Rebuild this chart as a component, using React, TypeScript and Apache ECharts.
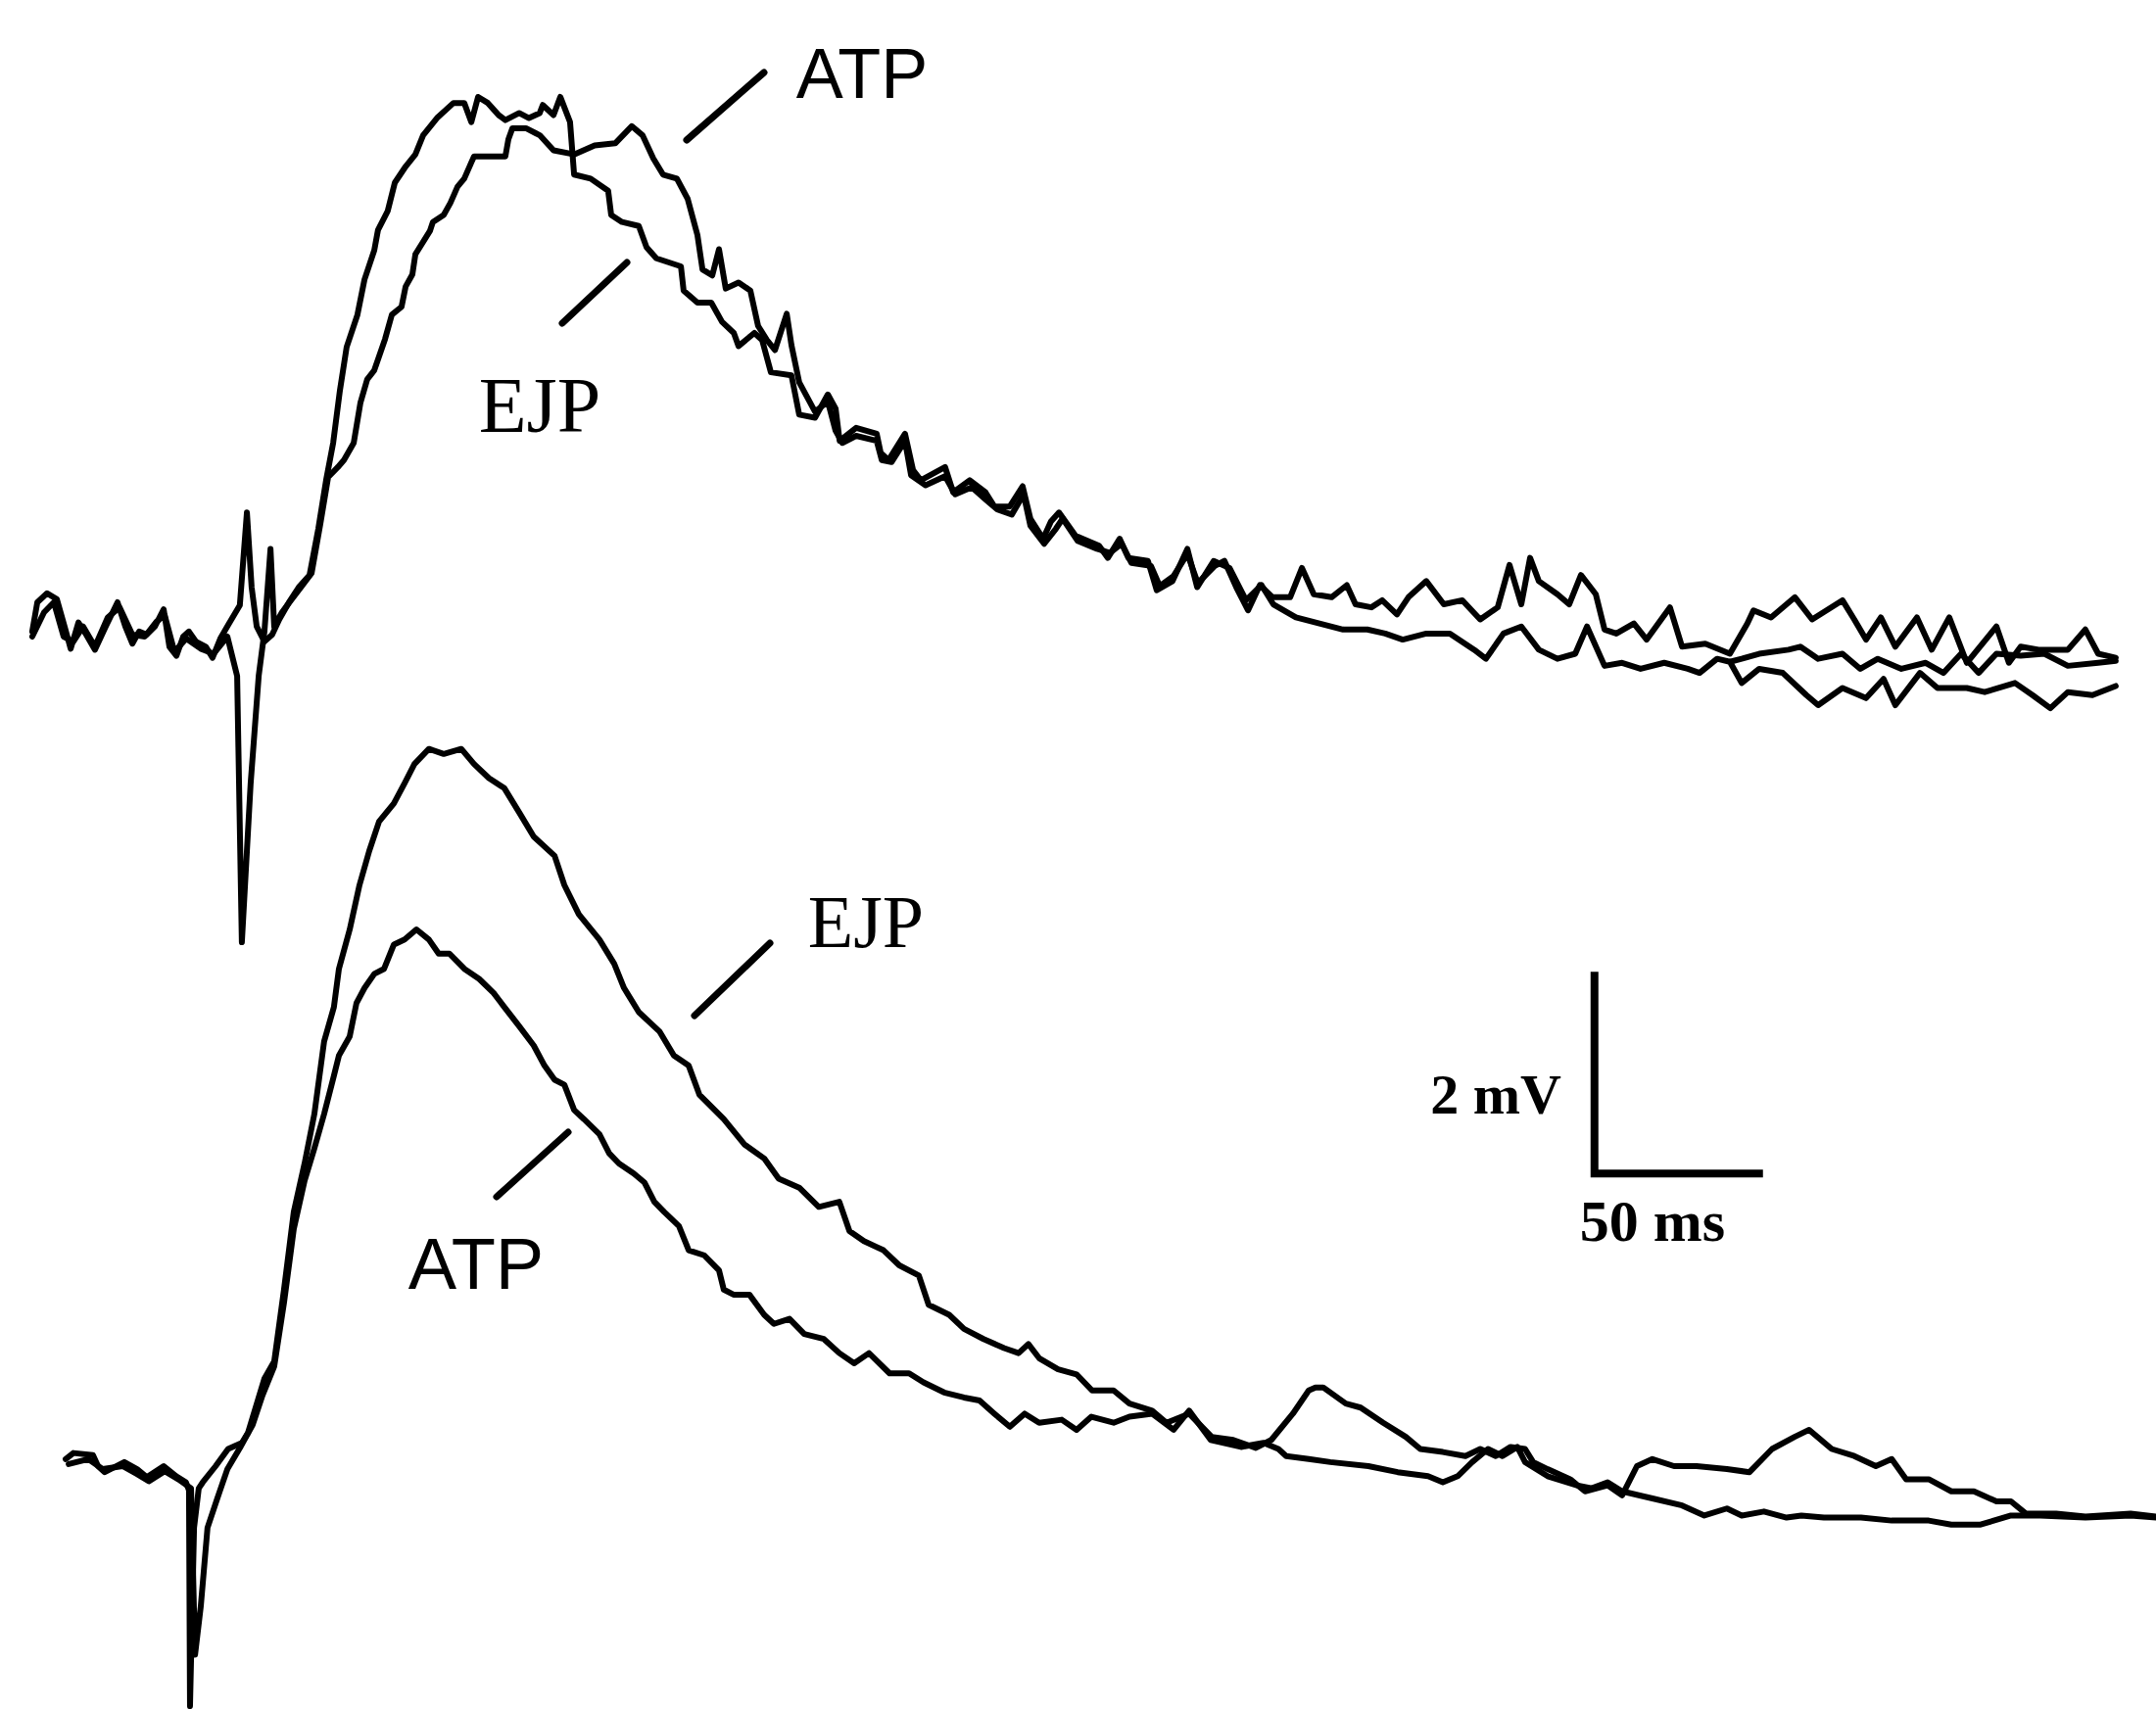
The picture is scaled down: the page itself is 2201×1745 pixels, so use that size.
import React, { useEffect, useRef } from "react";
import * as echarts from "echarts";

// ---- canvas & scale (scale bar: 50 ms horizontal, 2 mV vertical) ----
const W = 2201;
const H = 1745;
const PX_PER_MS = 3.44;
const PX_PER_MV = 103;
// pixel position of stimulus time (t=0) and resting baseline (0 mV) for each panel
const TOP_ORIGIN = { x: 250, y: 650 };
const BOTTOM_ORIGIN = { x: 195, y: 1497 };

// ---- data: [time (ms from stimulus), depolarisation (mV from rest)] ----
const topEJP: [number, number][] = [
  [-63.1,0.05],[-61.6,0.34],[-58.7,0.43],[-55.8,0.37],[-53.5,0.10],[-51.7,-0.12],[-49.4,0.14],[-47.1,0.02],[-44.5,-0.13],[-41.3,0.10],[-37.8,0.34],[-35.5,0.10],[-33.4,-0.07],[-31.4,0.05],[-29.1,0.02],[-26.7,0.10],[-24.1,0.27],[-22.4,-0.10],[-20.3,-0.19],[-18.3,0.00],[-16.6,0.05],[-14.5,-0.05],[-11.6,-0.10],[-9.6,-0.21],[-7.3,-0.02],[-4.9,0.12],[-1.5,0.31],[0.6,1.23],[2.0,0.49],[3.5,0.10],[5.8,-0.05],[8.1,0.02],[10.2,0.17],[13.1,0.34],[16.0,0.49],[19.2,0.61],[21.8,1.07],[24.1,1.55],[26.2,1.92],[28.2,2.44],[30.2,2.87],[33.4,3.19],[35.5,3.54],[38.4,3.83],[39.5,4.03],[42.4,4.22],[44.5,4.50],[47.7,4.66],[50.6,4.78],[52.9,4.97],[57.0,5.14],[61.9,5.29],[65.1,5.29],[67.2,5.10],[69.2,5.35],[72.1,5.29],[75.3,5.17],[77.3,5.12],[81.4,5.19],[84.3,5.14],[87.5,5.19],[88.4,5.27],[91.6,5.17],[93.6,5.35],[96.5,5.10],[97.7,4.58],[102.6,4.54],[107.8,4.42],[108.7,4.18],[111.9,4.11],[116.9,4.07],[119.2,3.86],[122.1,3.75],[129.4,3.67],[130.2,3.43],[134.3,3.31],[138.4,3.31],[141.6,3.12],[145.1,3.01],[146.5,2.88],[151.2,3.01],[153.5,2.94],[156.1,2.62],[162.2,2.59],[164.5,2.20],[169.2,2.17],[173.0,2.40],[175.3,2.26],[176.5,1.94],[181.4,2.07],[187.5,2.01],[188.7,1.82],[191.0,1.75],[195.9,2.01],[198.3,1.65],[200.6,1.55],[207.8,1.68],[210.2,1.43],[215.1,1.55],[219.8,1.43],[222.4,1.29],[227.0,1.29],[230.8,1.49],[233.1,1.17],[236.9,0.97],[239.2,1.14],[241.6,1.23],[246.5,1.00],[253.5,0.90],[256.1,0.78],[259.6,0.97],[262.2,0.78],[268.0,0.75],[270.6,0.46],[275.3,0.55],[279.7,0.87],[282.6,0.49],[287.5,0.75],[292.2,0.68],[297.1,0.36],[301.7,0.51],[305.2,0.32],[311.9,0.19],[318.9,0.13],[325.9,0.07],[333.1,0.07],[338.4,0.03],[343.6,-0.03],[350.6,0.03],[357.6,0.03],[364.8,-0.13],[368.3,-0.22],[373.5,0.03],[378.8,0.10],[384.0,-0.13],[389.5,-0.22],[394.8,-0.17],[398.3,0.10],[403.5,-0.29],[408.7,-0.26],[414.2,-0.32],[421.2,-0.26],[428.2,-0.32],[431.7,-0.36],[436.9,-0.22],[440.7,-0.25],[444.2,-0.46],[449.4,-0.32],[456.4,-0.36],[463.4,-0.58],[466.9,-0.68],[474.1,-0.51],[481.1,-0.61],[486.3,-0.42],[489.8,-0.68],[497.1,-0.36],[502.3,-0.51],[511.0,-0.51],[516.3,-0.55],[525.3,-0.46],[530.5,-0.58],[535.8,-0.71],[541.0,-0.55],[548.3,-0.58],[555.2,-0.49]
];

const topATP: [number, number][] = [
  [-63.1,0.00],[-59.6,0.24],[-56.7,0.34],[-53.8,0.00],[-50.9,-0.05],[-48.0,0.10],[-44.5,-0.10],[-40.7,0.19],[-37.2,0.29],[-33.4,0.02],[-29.7,0.00],[-26.2,0.15],[-23.8,0.21],[-20.9,-0.15],[-17.4,-0.02],[-13.1,-0.12],[-9.3,-0.17],[-5.2,0.00],[-2.3,-0.39],[-0.9,-3.03],[1.7,-1.46],[4.1,-0.39],[5.8,0.05],[7.6,0.87],[8.7,0.10],[11.0,0.24],[13.9,0.37],[16.9,0.50],[19.8,0.63],[22.4,1.12],[24.7,1.58],[27.6,1.68],[29.4,1.75],[32.3,1.92],[34.3,2.32],[36.3,2.55],[38.4,2.64],[41.6,2.95],[43.6,3.19],[46.5,3.27],[47.7,3.47],[49.7,3.59],[50.6,3.79],[54.9,4.02],[55.8,4.11],[59.0,4.18],[61.0,4.30],[63.1,4.46],[65.1,4.54],[67.2,4.70],[68.0,4.76],[72.7,4.76],[77.3,4.76],[78.2,4.93],[79.4,5.04],[83.4,5.04],[86.3,4.99],[87.5,4.97],[91.6,4.82],[97.7,4.78],[103.8,4.87],[109.9,4.89],[114.8,5.06],[118.0,4.97],[121.2,4.74],[124.1,4.58],[128.2,4.54],[131.4,4.34],[134.3,3.98],[135.8,3.64],[138.7,3.58],[140.7,3.84],[142.7,3.45],[146.5,3.51],[150.0,3.43],[152.3,3.08],[154.9,2.94],[157.3,2.84],[160.8,3.20],[162.2,2.89],[164.5,2.52],[169.2,2.23],[173.0,2.33],[175.3,2.04],[177.3,1.92],[181.4,1.99],[187.5,1.94],[189.0,1.75],[191.9,1.73],[195.9,1.94],[197.7,1.60],[202.0,1.50],[207.8,1.59],[210.8,1.41],[215.7,1.48],[219.8,1.36],[223.3,1.26],[227.6,1.21],[231.1,1.41],[233.1,1.10],[237.2,0.92],[240.7,1.07],[242.7,1.17],[247.1,0.95],[252.9,0.87],[256.7,0.83],[260.2,0.92],[263.1,0.73],[268.9,0.70],[271.5,0.50],[275.6,0.60],[279.7,0.82],[282.8,0.53],[287.8,0.70],[290.7,0.75],[294.2,0.49],[297.7,0.26],[301.2,0.51],[305.0,0.39],[310.2,0.39],[313.7,0.68],[317.2,0.42],[322.5,0.39],[327.0,0.51],[329.6,0.32],[334.3,0.29],[337.5,0.36],[341.9,0.22],[345.3,0.39],[350.6,0.55],[355.8,0.32],[361.3,0.36],[366.6,0.17],[371.8,0.29],[375.3,0.71],[378.8,0.32],[381.4,0.78],[384.0,0.55],[389.5,0.42],[393.0,0.32],[396.5,0.61],[400.9,0.42],[403.5,0.07],[407.0,0.03],[412.2,0.13],[416.0,-0.03],[422.9,0.29],[426.5,-0.10],[433.4,-0.07],[440.7,-0.17],[445.9,0.13],[447.7,0.26],[452.9,0.19],[460.0,0.39],[465.1,0.17],[474.1,0.36],[477.6,0.17],[481.1,-0.03],[485.5,0.19],[489.8,-0.10],[496.2,0.19],[500.6,-0.13],[505.8,0.19],[511.0,-0.26],[519.8,0.10],[523.5,-0.26],[527.0,-0.10],[532.3,-0.13],[541.0,-0.13],[546.2,0.07],[550.0,-0.17],[555.2,-0.21]
];

// third overlapping sweep, visible only where it separates late in the top record
const topThirdSweep: [number, number][] = [
  [440.7,-0.25],[444.2,-0.22],[449.4,-0.17],[458.1,-0.13],[461.6,-0.10],[466.9,-0.22],[474.1,-0.17],[479.4,-0.32],[484.6,-0.22],[491.6,-0.32],[498.8,-0.26],[504.1,-0.36],[509.3,-0.17],[514.5,-0.36],[519.8,-0.17],[527.0,-0.19],[534.0,-0.17],[541.0,-0.29],[550.0,-0.26],[555.2,-0.24]
];

const bottomEJP: [number, number][] = [
  [-37.2,0.07],[-34.9,0.13],[-29.1,0.11],[-27.6,0.00],[-25.6,-0.06],[-19.8,0.04],[-16.0,-0.03],[-13.1,-0.11],[-8.1,0.00],[-4.4,-0.10],[-1.5,-0.16],[-0.6,-0.24],[-0.3,-2.38],[0.9,-0.61],[2.3,-0.22],[3.5,-0.16],[7.3,0.00],[11.0,0.17],[15.1,0.23],[16.9,0.33],[18.9,0.55],[21.8,0.87],[24.7,1.04],[27.6,1.75],[30.5,2.52],[33.7,3.00],[36.6,3.49],[39.5,4.21],[42.4,4.55],[43.9,4.93],[47.1,5.32],[50.0,5.76],[52.9,6.10],[55.8,6.39],[60.2,6.57],[63.4,6.77],[66.3,6.96],[70.6,7.11],[75.0,7.06],[80.2,7.11],[84.0,6.96],[88.4,6.82],[93.0,6.72],[97.4,6.48],[101.7,6.24],[107.9,6.05],[110.8,5.76],[115.1,5.47],[121.2,5.22],[125.6,4.98],[128.5,4.74],[132.9,4.50],[139.0,4.31],[143.3,4.07],[147.7,3.97],[150.9,3.68],[158.1,3.44],[164.2,3.19],[170.1,3.05],[174.4,2.85],[180.5,2.76],[186.3,2.57],[192.4,2.62],[195.4,2.33],[199.7,2.23],[205.5,2.14],[210.2,1.99],[216.0,1.89],[218.9,1.60],[225.0,1.50],[229.4,1.36],[235.2,1.26],[241.3,1.17],[245.6,1.12],[248.5,1.21],[251.7,1.07],[257.3,0.96],[262.8,0.91],[267.4,0.75],[273.8,0.75],[278.5,0.62],[285.2,0.55],[289.5,0.43],[296.2,0.52],[302.9,0.29],[309.3,0.26],[316.0,0.18],[320.6,0.26],[327.0,0.52],[331.7,0.75],[333.7,0.78],[336.0,0.78],[342.7,0.62],[347.1,0.58],[353.8,0.43],[360.5,0.29],[364.8,0.17],[371.5,0.14],[378.2,0.10],[382.6,0.17],[387.2,0.10],[391.6,0.19],[395.9,0.17],[398.3,0.04],[402.6,-0.03],[409.3,-0.13],[413.7,-0.25],[420.4,-0.19],[424.7,-0.29],[429.1,0.00],[433.7,0.07],[440.1,0.00],[446.8,0.00],[455.8,-0.03],[462.5,-0.06],[469.2,0.17],[475.9,0.29],[480.2,0.36],[486.9,0.17],[493.6,0.10],[500.0,0.00],[504.7,0.07],[509.0,-0.13],[515.7,-0.13],[522.4,-0.25],[529.1,-0.25],[535.8,-0.35],[540.1,-0.35],[544.5,-0.47],[553.5,-0.47],[562.2,-0.50],[575.6,-0.47],[583.2,-0.50]
];

const bottomATP: [number, number][] = [
  [-36.3,0.02],[-30.5,0.07],[-26.2,-0.03],[-20.3,0.00],[-16.0,-0.08],[-12.5,-0.15],[-7.8,-0.05],[-3.8,-0.13],[0.0,-0.22],[1.2,-1.87],[2.9,-1.39],[4.9,-0.61],[7.8,-0.32],[10.8,-0.03],[14.5,0.18],[18.3,0.41],[21.2,0.70],[24.7,0.99],[27.6,1.62],[30.5,2.35],[33.7,2.83],[36.6,3.15],[39.5,3.49],[42.4,3.87],[43.9,4.07],[47.1,4.26],[49.1,4.59],[51.5,4.74],[54.4,4.88],[57.3,4.93],[60.2,5.17],[63.4,5.22],[66.9,5.32],[70.6,5.22],[73.5,5.08],[76.7,5.08],[81.1,4.93],[85.5,4.83],[89.8,4.69],[93.0,4.55],[97.4,4.36],[101.7,4.17],[104.9,3.97],[107.9,3.83],[110.8,3.78],[113.7,3.53],[116.6,3.44],[121.2,3.29],[124.1,3.10],[127.0,3.00],[131.4,2.90],[134.6,2.81],[137.5,2.62],[140.4,2.52],[144.8,2.38],[147.7,2.14],[152.3,2.09],[156.7,1.94],[158.1,1.75],[161.0,1.70],[165.7,1.70],[170.1,1.50],[173.0,1.41],[177.6,1.46],[182.0,1.31],[187.8,1.26],[192.4,1.12],[196.8,1.02],[201.2,1.12],[207.3,0.92],[213.1,0.92],[217.4,0.83],[223.5,0.73],[229.4,0.68],[234.0,0.65],[238.4,0.52],[243.0,0.39],[247.4,0.52],[251.7,0.43],[258.4,0.46],[262.8,0.36],[267.2,0.49],[273.8,0.43],[278.5,0.49],[285.2,0.52],[291.6,0.36],[296.2,0.55],[302.6,0.26],[311.6,0.19],[318.3,0.23],[322.7,0.17],[325.0,0.10],[331.7,0.07],[338.1,0.04],[349.4,0.00],[358.1,-0.06],[367.1,-0.10],[371.5,-0.16],[375.9,-0.10],[380.2,0.04],[384.9,0.17],[389.2,0.10],[393.6,0.19],[395.9,0.04],[402.6,-0.10],[411.3,-0.19],[415.7,-0.22],[420.4,-0.16],[424.7,-0.25],[433.7,-0.32],[442.5,-0.39],[449.1,-0.49],[455.8,-0.42],[460.2,-0.49],[466.8,-0.45],[473.5,-0.51],[477.9,-0.49],[484.6,-0.51],[495.6,-0.51],[504.7,-0.54],[515.7,-0.54],[522.4,-0.58],[531.1,-0.58],[540.1,-0.49],[548.8,-0.49],[562.2,-0.51],[575.6,-0.49],[583.2,-0.51]
];

// scale bar (bottom panel coordinates): 2 mV vertical, 50 ms horizontal
const SCALE_CORNER: [number, number] = [416.5, 2.9];
const SCALE_MV = 2;
const SCALE_MS = 50;
const scaleBar: [number, number][] = [
  [SCALE_CORNER[0], SCALE_CORNER[1] + SCALE_MV],
  SCALE_CORNER,
  [SCALE_CORNER[0] + SCALE_MS, SCALE_CORNER[1]],
];

const LABEL_SANS = '"Liberation Sans", Arial, sans-serif';
const LABEL_SERIF = '"Liberation Serif", "Times New Roman", serif';

export default function App() {
  const ref = useRef<HTMLDivElement>(null);

  useEffect(() => {
    document.body.style.margin = "0";
    if (!ref.current) return;
    const chart = echarts.init(ref.current, undefined, { renderer: "svg" });

    const axisRange = (o: { x: number; y: number }) => ({
      xMin: -o.x / PX_PER_MS,
      xMax: (W - o.x) / PX_PER_MS,
      yMin: -(H - o.y) / PX_PER_MV,
      yMax: o.y / PX_PER_MV,
    });
    const rt = axisRange(TOP_ORIGIN);
    const rb = axisRange(BOTTOM_ORIGIN);

    const trace = (data: [number, number][], idx: number, width = 6) => ({
      type: "line" as const,
      data,
      xAxisIndex: idx,
      yAxisIndex: idx,
      showSymbol: false,
      symbol: "none",
      silent: true,
      clip: false,
      lineStyle: { color: "#000", width, join: "round" as const, cap: "round" as const },
    });

    const pointer = (x1: number, y1: number, x2: number, y2: number) => ({
      type: "line",
      shape: { x1, y1, x2, y2 },
      style: { stroke: "#000", lineWidth: 7, lineCap: "round" },
      silent: true,
    });
    const label = (text: string, x: number, y: number, font: string) => ({
      type: "text",
      x,
      y,
      silent: true,
      style: {
        text,
        font,
        fill: "#000",
        align: "center",
        verticalAlign: "middle",
        textAlign: "center",
        textVerticalAlign: "middle",
      },
    });

    chart.setOption({
      animation: false,
      backgroundColor: "#fff",
      grid: [
        { left: 0, top: 0, width: W, height: H, containLabel: false },
        { left: 0, top: 0, width: W, height: H, containLabel: false },
      ],
      xAxis: [
        { type: "value", gridIndex: 0, min: rt.xMin, max: rt.xMax, show: false },
        { type: "value", gridIndex: 1, min: rb.xMin, max: rb.xMax, show: false },
      ],
      yAxis: [
        { type: "value", gridIndex: 0, min: rt.yMin, max: rt.yMax, show: false },
        { type: "value", gridIndex: 1, min: rb.yMin, max: rb.yMax, show: false },
      ],
      series: [
        { name: "EJP (top)", ...trace(topEJP, 0) },
        { name: "ATP (top)", ...trace(topATP, 0) },
        { name: "sweep 3 (top)", ...trace(topThirdSweep, 0) },
        { name: "EJP (bottom)", ...trace(bottomEJP, 1) },
        { name: "ATP (bottom)", ...trace(bottomATP, 1) },
        {
          name: "scale bar",
          ...trace(scaleBar, 1, 8),
          lineStyle: { color: "#000", width: 8, join: "miter", cap: "butt" },
        },
      ],
      graphic: [
        label("ATP", 880, 75, `normal 72px ${LABEL_SANS}`),
        pointer(701, 143, 780, 74),
        label("EJP", 551, 414, `normal 80px ${LABEL_SERIF}`),
        pointer(574, 330, 640, 268),
        label("EJP", 884, 941, `normal 76px ${LABEL_SERIF}`),
        pointer(709, 1037, 786, 963),
        label("ATP", 486, 1290, `normal 74px ${LABEL_SANS}`),
        pointer(507, 1222, 580, 1156),
        label("2 mV", 1527, 1117, `bold 58px ${LABEL_SERIF}`),
        label("50 ms", 1687, 1247, `bold 60px ${LABEL_SERIF}`),
      ],
    });

    return () => chart.dispose();
  }, []);

  return <div ref={ref} style={{ width: W, height: H, background: "#fff" }} />;
}
